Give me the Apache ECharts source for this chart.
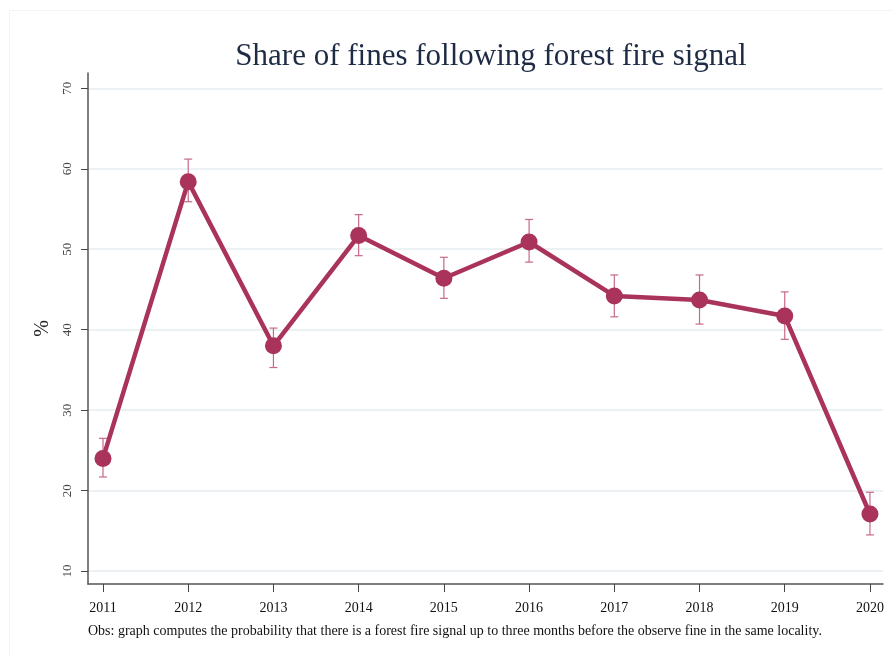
<!DOCTYPE html>
<html style="height: 100%">
    <head>
        <meta charset="utf-8">
    </head>
    <body style="height: 100%; margin: 0; background: #fff">
        <div id="container" style="height: 657px; width: 893px;"></div>
        <script type="text/javascript" src="https://cdn.jsdelivr.net/npm/echarts@6/dist/echarts.min.js"></script>
        <script type="text/javascript">
var years = [2011, 2012, 2013, 2014, 2015, 2016, 2017, 2018, 2019, 2020];
var shares = [24.0, 58.4, 38.0, 51.7, 46.4, 50.9, 44.2, 43.7, 41.7, 17.1];
var ciLow = [21.7, 55.9, 35.3, 49.2, 43.9, 48.4, 41.6, 40.7, 38.8, 14.5];
var ciHigh = [26.5, 61.2, 40.2, 54.3, 49.0, 53.7, 46.8, 46.8, 44.7, 19.8];
var yTicks = [10, 20, 30, 40, 50, 60, 70];

var mainColor = '#a9335a';
var ciColor = '#c8688a';
var serif = '"Liberation Serif", "DejaVu Serif", serif';

var dom = document.getElementById("container");
var myChart = echarts.init(dom);

var lineData = years.map(function (y, i) { return [y, shares[i]]; });
var ciData = years.map(function (y, i) { return [y, ciLow[i], ciHigh[i]]; });

var option = {
    backgroundColor: '#fff',
    animation: false,
    title: {
        text: 'Share of fines following forest fire signal',
        left: 486,
        textAlign: 'center',
        top: 36,
        textStyle: {
            fontFamily: serif,
            fontWeight: 'normal',
            fontSize: 31,
            color: '#1e2b45'
        }
    },
    grid: {
        left: 88,
        right: 10,
        top: 73,
        bottom: 73
    },
    xAxis: {
        type: 'value',
        min: 2010.824,
        max: 2020.153,
        axisLine: { show: true, lineStyle: { color: '#555', width: 1.5 } },
        axisTick: { show: true, length: 8, customValues: years, lineStyle: { color: '#444' } },
        axisLabel: {
            customValues: years,
            margin: 17,
            fontFamily: serif,
            fontSize: 14,
            color: '#111',
            formatter: function (v) { return String(v); }
        },
        splitLine: { show: false }
    },
    yAxis: {
        type: 'value',
        min: 8.4,
        max: 71.9,
        name: '%',
        nameLocation: 'middle',
        nameGap: 31,
        nameRotate: 90,
        nameTextStyle: { fontFamily: serif, fontSize: 20, color: '#222' },
        axisLine: { show: true, lineStyle: { color: '#555', width: 1.5 } },
        axisTick: { show: true, length: 7, customValues: yTicks, lineStyle: { color: '#444' } },
        axisLabel: {
            customValues: yTicks,
            rotate: 90,
            margin: 14,
            fontFamily: serif,
            fontSize: 13,
            color: '#444'
        },
        splitLine: { show: true, lineStyle: { color: '#e6eef1', width: 1.5 } }
    },
    series: [
        {
            type: 'custom',
            data: ciData,
            z: 1,
            renderItem: function (params, api) {
                var x = api.value(0);
                var lo = api.coord([x, api.value(1)]);
                var hi = api.coord([x, api.value(2)]);
                var half = 4;
                var st = { stroke: ciColor, lineWidth: 1.2, fill: null };
                return {
                    type: 'group',
                    children: [
                        { type: 'line', shape: { x1: lo[0], y1: lo[1], x2: hi[0], y2: hi[1] }, style: st },
                        { type: 'line', shape: { x1: lo[0] - half, y1: lo[1], x2: lo[0] + half, y2: lo[1] }, style: st },
                        { type: 'line', shape: { x1: hi[0] - half, y1: hi[1], x2: hi[0] + half, y2: hi[1] }, style: st }
                    ]
                };
            }
        },
        {
            type: 'line',
            data: lineData,
            z: 2,
            symbol: 'circle',
            symbolSize: 17,
            showAllSymbol: true,
            lineStyle: { color: mainColor, width: 4.5 },
            itemStyle: { color: mainColor, borderWidth: 0 }
        }
    ],
    graphic: {
        elements: [
            {
                type: 'rect',
                shape: { x: 9.5, y: 10.5, width: 900, height: 660 },
                style: { fill: null, stroke: '#f3f3f3', lineWidth: 1 },
                silent: true
            },
            {
                type: 'text',
                left: 88,
                top: 624,
                style: {
                    text: 'Obs: graph computes the probability that there is a forest fire signal up to three months before the observe fine in the same locality.',
                    font: '14px "Liberation Serif", serif',
                    fill: '#111'
                }
            }
        ]
    }
};

myChart.setOption(option);
        </script>
    </body>
</html>
